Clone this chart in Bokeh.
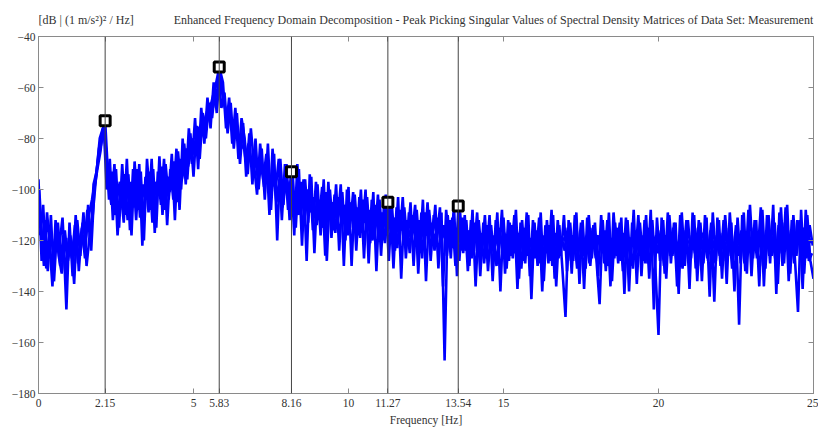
import numpy as np
from bokeh.plotting import figure
from bokeh.layouts import column
from bokeh.models import FixedTicker, LinearAxis, Span, Range1d
from bokeh.core.properties import value
from bokeh.embed import file_html
from bokeh.resources import INLINE

# ---------------- data ----------------
step = 0.1
freq_a = np.round(np.arange(0, 251) * step, 3)           # 0.000 .. 25.000 Hz
freq_b = np.round(np.arange(0, 250) * step + 0.05, 3)    # 0.050 .. 24.950 Hz
freq_c = np.round(np.arange(0, 250) * step + 0.025, 3)   # 0.025 .. 24.925 Hz
freq_d = np.round(np.arange(0, 250) * step + 0.075, 3)   # 0.075 .. 24.975 Hz

sv_a = [
    -96, -128, -112, -132, -110, -136, -115, -130, -118, -147,
    -113, -134, -110, -132, -115, -127, -106, -124, -100, -92,
    -85, -74, -100, -88, -112, -92, -115, -90, -110, -94,
    -118, -89, -108, -93, -120, -88, -105, -92, -115, -87,
    -110, -90, -104, -86, -112, -85, -100, -82, -96, -78,
    -95, -75, -88, -70, -80, -66, -72, -60, -54, -68,
    -62, -78, -66, -84, -70, -90, -74, -95, -78, -98,
    -80, -100, -84, -104, -82, -108, -86, -120, -88, -106,
    -90, -112, -94, -115, -92, -122, -96, -113, -95, -125,
    -98, -118, -96, -128, -100, -116, -98, -124, -101, -120,
    -99, -130, -102, -118, -100, -127, -103, -121, -101, -132,
    -104, -120, -102, -128, -106, -124, -103, -135, -107, -122,
    -105, -130, -108, -125, -104, -136, -108, -121, -106, -131,
    -109, -167, -110, -127, -106, -134, -109, -125, -112, -130,
    -108, -138, -112, -126, -110, -132, -114, -128, -109, -140,
    -111, -131, -113, -127, -108, -135, -112, -129, -110, -143,
    -113, -130, -109, -136, -112, -128, -110, -138, -114, -131,
    -150, -112, -133, -110, -127, -113, -139, -111, -130, -114,
    -128, -145, -112, -132, -109, -136, -113, -129, -111, -141,
    -112, -130, -108, -137, -113, -128, -110, -135, -112, -131,
    -157, -111, -133, -109, -129, -113, -138, -110, -127, -112,
    -139, -109, -131, -112, -136, -110, -128, -113, -144, -111,
    -130, -112, -137, -109, -127, -114, -153, -110, -132, -108,
    -134, -112, -126, -107, -138, -110, -129, -106, -141, -109,
    -130, -107, -136, -112, -127, -148, -108, -133, -110, -128, -135,
]

sv_b = [
    -118, -106, -131, -120, -138, -112, -126, -133, -116, -128,
    -120, -137, -112, -126, -109, -130, -118, -110, -96, -84,
    -78, -73, -96, -106, -90, -118, -100, -113, -88, -116,
    -92, -112, -90, -122, -95, -109, -88, -117, -93, -106,
    -88, -114, -92, -104, -84, -108, -80, -98, -76, -90,
    -72, -92, -68, -82, -64, -76, -58, -70, -53, -58,
    -76, -64, -82, -68, -88, -72, -80, -94, -76, -90,
    -102, -82, -96, -86, -110, -84, -100, -88, -112, -90,
    -108, -93, -118, -90, -110, -96, -128, -94, -116, -97,
    -112, -99, -126, -97, -119, -102, -113, -98, -130, -100,
    -115, -101, -124, -103, -117, -100, -129, -104, -119, -102,
    -126, -105, -118, -104, -131, -107, -120, -103, -127, -109,
    -118, -106, -133, -109, -123, -105, -128, -110, -119, -107,
    -138, -108, -121, -111, -130, -106, -124, -110, -132, -112,
    -124, -109, -134, -113, -127, -110, -136, -112, -125, -108,
    -133, -112, -126, -110, -139, -113, -128, -109, -134, -112,
    -127, -111, -140, -114, -129, -108, -135, -112, -126, -110,
    -132, -113, -128, -109, -137, -112, -131, -110, -127, -113,
    -134, -110, -129, -112, -138, -109, -126, -113, -132, -111,
    -140, -113, -127, -110, -134, -112, -129, -108, -147, -111,
    -128, -112, -135, -110, -126, -113, -141, -109, -130, -112,
    -127, -110, -136, -113, -129, -111, -142, -109, -128, -112,
    -135, -110, -126, -113, -140, -111, -129, -109, -133, -106,
    -127, -112, -138, -108, -131, -110, -126, -113, -137, -107,
    -129, -106, -133, -110, -126, -112, -139, -108, -128, -125,
]

sv_c = [
    -100, -122, -116, -127, -119, -124, -113, -128, -121, -125,
    -118, -126, -115, -122, -113, -119, -110, -104, -97, -88,
    -82, -76, -92, -98, -95, -103, -97, -108, -99, -104,
    -101, -96, -106, -99, -103, -97, -108, -100, -102, -96,
    -104, -98, -101, -95, -99, -93, -96, -90, -91, -85,
    -86, -82, -80, -77, -74, -70, -68, -63, -58, -62,
    -68, -72, -74, -77, -79, -82, -84, -86, -88, -92,
    -90, -94, -93, -97, -95, -99, -97, -101, -100, -98,
    -102, -99, -104, -101, -106, -102, -108, -104, -105, -109,
    -106, -110, -107, -109, -111, -106, -112, -108, -110, -113,
    -109, -112, -110, -114, -108, -113, -111, -115, -110, -112,
    -114, -111, -116, -112, -115, -118, -113, -116, -114, -119,
    -115, -117, -113, -119, -116, -118, -114, -120, -117, -116,
    -119, -115, -120, -117, -118, -121, -116, -119, -118, -122,
    -119, -117, -121, -118, -123, -116, -120, -122, -118, -121,
    -117, -122, -119, -121, -116, -123, -120, -118, -122, -119,
    -121, -117, -123, -119, -120, -122, -118, -121, -124, -119,
    -120, -123, -118, -121, -119, -124, -120, -117, -122, -120,
    -118, -122, -120, -124, -119, -121, -117, -123, -120, -122,
    -121, -119, -123, -118, -122, -120, -124, -119, -121, -118,
    -122, -120, -118, -123, -121, -119, -122, -124, -118, -121,
    -120, -123, -119, -121, -117, -122, -120, -124, -119, -121,
    -123, -118, -121, -120, -124, -119, -122, -118, -121, -123,
    -119, -122, -120, -117, -121, -123, -118, -122, -120, -119,
    -116, -121, -118, -122, -117, -120, -115, -119, -118, -121,
]

sv_d = [
    -112, -130, -109, -124, -133, -117, -122, -111, -135, -119,
    -127, -114, -129, -117, -123, -108, -121, -98, -93, -80,
    -76, -84, -104, -93, -110, -98, -106, -94, -112, -97,
    -107, -92, -111, -98, -104, -93, -113, -97, -101, -91,
    -108, -95, -100, -89, -105, -88, -94, -84, -86, -80,
    -84, -76, -74, -72, -68, -66, -61, -58, -56, -66,
    -71, -70, -78, -75, -83, -78, -88, -82, -91, -85,
    -96, -89, -99, -91, -103, -94, -105, -96, -107, -95,
    -99, -107, -101, -110, -97, -112, -100, -109, -103, -114,
    -104, -115, -101, -112, -105, -117, -103, -113, -106, -118,
    -105, -116, -107, -119, -104, -114, -108, -120, -106, -117,
    -109, -121, -107, -118, -111, -123, -108, -119, -112, -125,
    -110, -122, -112, -127, -109, -120, -113, -124, -111, -122,
    -114, -126, -112, -123, -115, -128, -111, -124, -116, -127,
    -113, -126, -117, -129, -114, -124, -118, -130, -115, -125,
    -118, -128, -114, -125, -117, -131, -115, -126, -119, -127,
    -116, -129, -118, -125, -114, -130, -117, -127, -119, -124,
    -115, -128, -118, -131, -116, -126, -119, -129, -115, -127,
    -118, -125, -116, -130, -119, -127, -115, -128, -117, -126,
    -119, -131, -116, -126, -118, -129, -115, -127, -119, -125,
    -116, -130, -118, -126, -115, -128, -119, -131, -116, -127,
    -118, -125, -115, -130, -119, -127, -116, -129, -118, -126,
    -117, -128, -115, -131, -118, -126, -116, -129, -119, -125,
    -115, -127, -118, -130, -116, -126, -119, -128, -114, -125,
    -113, -124, -116, -129, -112, -126, -115, -127, -114, -122,
]

peak_freqs = [2.15, 5.83, 8.16, 11.27, 13.54]
peak_vals = [-73, -52, -93, -105, -106.5]

x_ticks = [0, 2.15, 5, 5.83, 8.16, 10, 11.27, 13.54, 15, 20, 25]
x_tick_labels = ["0", "2.15", "5", "5.83", "8.16", "10", "11.27", "13.54", "15", "20", "25"]
y_ticks = [-180, -160, -140, -120, -100, -80, -60, -40]

title_text = ("Enhanced Frequency Domain Decomposition - Peak Picking Singular Values "
              "of Spectral Density Matrices of Data Set: Measurement")
unit_text = "[dB | (1 m/s\u00b2)\u00b2 / Hz]"
x_label = "Frequency [Hz]"

# ---------------- styling ----------------
FONT = "Liberation Serif"
AX = "#8a8a8a"
TXT = "#333333"
W = 818
LEFT, RIGHT = 38, 5
HDR_H = 28

x_range = Range1d(0, 25)

# header strip with the two title texts, aligned with the plot frame
hdr = figure(width=W, height=HDR_H, output_backend="svg", toolbar_location=None,
             x_range=x_range, y_range=Range1d(0, 1), x_axis_type=None, y_axis_type=None)
hdr.min_border_left = LEFT
hdr.min_border_right = RIGHT
hdr.min_border_top = 0
hdr.min_border_bottom = 0
hdr.outline_line_color = None
hdr.xgrid.visible = False
hdr.ygrid.visible = False
hdr.text(x=[x_range.start], y=[0.3], text=[unit_text], text_align="left",
         text_baseline="middle", text_font=value(FONT), text_font_size="12px", text_color=TXT)
hdr.text(x=[x_range.end], y=[0.3], text=[title_text], text_align="right",
         text_baseline="middle", text_font=value(FONT), text_font_size="12px", text_color=TXT)

p = figure(width=W, height=400, output_backend="svg", toolbar_location=None,
           x_range=x_range, y_range=Range1d(-180, -40))
p.min_border_left = LEFT
p.min_border_right = RIGHT
p.min_border_top = 8
p.min_border_bottom = 35
p.xgrid.visible = False
p.ygrid.visible = False
p.outline_line_color = AX
p.background_fill_color = "white"
p.border_fill_color = "white"

for x, y in ((freq_c, sv_c), (freq_d, sv_d), (freq_a, sv_a), (freq_b, sv_b)):
    p.line(x=x, y=y, line_color="#0000ff", line_width=2.6)

for f in peak_freqs:
    p.add_layout(Span(location=f, dimension="height", line_color="#444444", line_width=1))

p.scatter(x=peak_freqs, y=peak_vals, marker="square", size=10,
          fill_color="white", line_color="black", line_width=3)

def style(ax):
    ax.axis_line_color = AX
    ax.major_tick_line_color = AX
    ax.major_tick_in = 5
    ax.major_tick_out = 0
    ax.minor_tick_line_color = None
    ax.major_label_text_font = FONT
    ax.major_label_text_font_size = "11.5px"
    ax.major_label_text_color = TXT

xa = p.xaxis[0]
xa.ticker = FixedTicker(ticks=x_ticks)
xa.major_label_overrides = {t: s for t, s in zip(x_ticks, x_tick_labels)}
style(xa)
xa.major_label_standoff = 5
xa.axis_label = x_label
xa.axis_label_text_font = FONT
xa.axis_label_text_font_size = "11.5px"
xa.axis_label_text_font_style = "normal"
xa.axis_label_text_color = TXT
xa.axis_label_standoff = 4

ya = p.yaxis[0]
ya.ticker = FixedTicker(ticks=y_ticks)
style(ya)
ya.major_label_standoff = 3

top = LinearAxis(ticker=FixedTicker(ticks=x_ticks))
style(top)
top.major_label_overrides = {t: "" for t in x_ticks}
top.major_label_standoff = 0
p.add_layout(top, "above")

right = LinearAxis(ticker=FixedTicker(ticks=y_ticks))
style(right)
right.major_label_overrides = {t: "" for t in y_ticks}
right.major_label_standoff = 0
p.add_layout(right, "right")

layout = column(hdr, p, spacing=0)
open("out.html", "w").write(file_html(layout, INLINE))
